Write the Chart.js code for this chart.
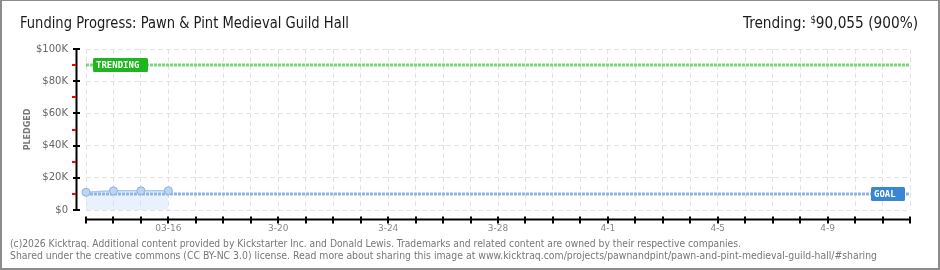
<!DOCTYPE html>
<html><head><meta charset="utf-8">
<script src="https://cdn.jsdelivr.net/npm/chart.js@4.4.1/dist/chart.umd.min.js"></script>
<style>
html,body{margin:0;padding:0;background:#fff;}
#wrap{position:relative;width:940px;height:270px;overflow:hidden;background:#fff;}
#frame{position:absolute;left:0;top:0;width:940px;height:270px;box-sizing:border-box;border:2px solid #8c8c8c;border-top-width:1px;pointer-events:none;}
canvas{position:absolute;left:0;top:0;}
.t{position:absolute;white-space:nowrap;transform-origin:0 0;}
#title{left:20px;top:15px;font:16px/16px 'DejaVu Sans Condensed','DejaVu Sans',sans-serif;color:#1a1a1a;}
#trend{left:743px;top:15px;font:16px/16px 'DejaVu Sans Condensed','DejaVu Sans',sans-serif;color:#1a1a1a;}
#trend .d{font-size:10px;position:relative;top:-5px;}
.f{left:10px;font:10px/10px 'DejaVu Sans Condensed','DejaVu Sans',sans-serif;color:#777;}
#f1{top:239px;}
#f2{top:251px;}
</style></head>
<body>
<div id="wrap">
<canvas id="c" width="940" height="270"></canvas>
<div class="t" id="title">Funding Progress: Pawn &amp; Pint Medieval Guild Hall</div>
<div class="t" id="trend">Trending: <span class="d">$</span>90,055 (900%)</div>
<div class="t f" id="f1">(c)2026 Kicktraq. Additional content provided by Kickstarter Inc. and Donald Lewis. Trademarks and related content are owned by their respective companies.</div>
<div class="t f" id="f2">Shared under the creative commons (CC BY-NC 3.0) license. Read more about sharing this image at www.kicktraq.com/projects/pawnandpint/pawn-and-pint-medieval-guild-hall/#sharing</div>
<div id="frame"></div>
</div>
<script>
// ---- data ----
const dayCount = 30;                 // 03-13 .. 04-12
const pledgedDays = [0, 1, 2, 3];    // 03-13 .. 03-16
const pledgedValues = [11000, 11900, 11950, 12000];
const goalValue = 10000;
const trendingValue = 90055;
const tickDays = [3, 7, 11, 15, 19, 23, 27];
const tickLabels = ['03-16', '3-20', '3-24', '3-28', '4-1', '4-5', '4-9'];
const yMax = 100000;

// fit header/footer text widths
function fit(id, w){
  const el = document.getElementById(id);
  const cw = el.getBoundingClientRect().width;
  el.style.transform = 'scaleX(' + (w / cw) + ')';
}
fit('title', 329); fit('trend', 175); fit('f1', 731); fit('f2', 867);

const axesPlugin = {
  id: 'axes',
  afterDraw(chart){
    const {ctx, chartArea: a, scales: {x, y}} = chart;
    ctx.save();
    // y axis
    const ax = a.left - 9.5;
    ctx.strokeStyle = '#000'; ctx.lineWidth = 2;
    ctx.beginPath(); ctx.moveTo(ax, y.getPixelForValue(yMax) - 1); ctx.lineTo(ax, y.getPixelForValue(0) + 1); ctx.stroke();
    for (let v = 0; v <= yMax; v += 10000){
      const py = Math.round(y.getPixelForValue(v));
      if (v % 20000 === 0){
        ctx.fillStyle = '#000'; ctx.fillRect(ax - 3.5, py - 1, 7, 2);
      } else {
        ctx.fillStyle = '#f00'; ctx.fillRect(ax - 4.5, py - 1, 4, 2);
      }
    }
    // x axis
    const ay = a.bottom + 9.5;
    ctx.fillStyle = '#000';
    const x0 = x.getPixelForValue(0), x1 = x.getPixelForValue(dayCount);
    ctx.fillRect(x0 - 1, ay - 1, x1 - x0 + 2, 2);
    for (let d = 0; d <= dayCount; d++){
      const px = Math.round(x.getPixelForValue(d));
      ctx.fillRect(px - 1, ay - 3, 2, 7);
    }
    // labels
    function tag(text, left, cy, w, color){
      ctx.fillStyle = color;
      ctx.beginPath();
      ctx.roundRect(left, Math.round(cy) - 7, w, 14, 1.5);
      ctx.fill();
      ctx.fillStyle = '#fff';
      ctx.font = 'bold 9px "DejaVu Sans Mono", monospace';
      ctx.textBaseline = 'middle';
      ctx.textAlign = 'left';
      ctx.fillText(text, left + 3, Math.round(cy) + 0.5);
    }
    tag('TRENDING', x.getPixelForValue(0) + 7, y.getPixelForValue(trendingValue), 55, '#1fb51f');
    tag('GOAL', x.getPixelForValue(dayCount) - 39, y.getPixelForValue(goalValue), 34, '#3a86d6');
    ctx.restore();
  }
};

new Chart(document.getElementById('c'), {
  type: 'line',
  data: {
    datasets: [
      {
        label: 'Pledged',
        data: pledgedDays.map((d, i) => ({x: d, y: pledgedValues[i]})),
        borderColor: '#a9c9ee',
        borderWidth: 1.5,
        backgroundColor: 'rgba(200,222,248,0.4)',
        fill: 'origin',
        pointRadius: 4,
        pointBackgroundColor: '#bcd5f2',
        pointBorderColor: '#8cb2de',
        pointBorderWidth: 1,
        tension: 0,
        clip: false
      },
      {
        label: 'Goal',
        data: [{x: 0, y: goalValue}, {x: dayCount, y: goalValue}],
        borderColor: '#8fb5e0',
        borderWidth: 3,
        borderDash: [3, 1],
        pointRadius: 0,
        fill: false
      },
      {
        label: 'Trending',
        data: [{x: 0, y: trendingValue}, {x: dayCount, y: trendingValue}],
        borderColor: '#7ad67a',
        borderWidth: 3,
        borderDash: [3, 1],
        pointRadius: 0,
        fill: false
      }
    ]
  },
  options: {
    responsive: false,
    animation: false,
    events: [],
    layout: {padding: {left: 23, right: 30, top: 49, bottom: 30}},
    plugins: {
      legend: {display: false},
      tooltip: {enabled: false},
      filler: {drawTime: 'beforeDatasetsDraw'}
    },
    scales: {
      x: {
        type: 'linear',
        min: 0, max: dayCount,
        afterFit(s){ s.height = 30; },
        border: {display: false, dash: [5, 3]},
        grid: {color: '#e3e3e3', lineWidth: 1, drawTicks: false},
        ticks: {
          stepSize: 1, autoSkip: false, maxRotation: 0, padding: 13,
          color: '#888',
          font: {family: 'DejaVu Sans', size: 9},
          callback: (v) => { const i = tickDays.indexOf(v); return i >= 0 ? tickLabels[i] : ''; }
        }
      },
      y: {
        min: 0, max: yMax,
        afterFit(s){ s.width = 63; },
        border: {display: false, dash: [5, 3]},
        grid: {
          drawTicks: false, lineWidth: 1,
          color: (c) => (c.tick && c.tick.value % 20000 === 0) ? '#e3e3e3' : 'rgba(0,0,0,0)'
        },
        title: {display: true, text: 'PLEDGED', color: '#777', padding: 0,
          font: {family: 'DejaVu Sans', size: 8, weight: 'bold'}},
        ticks: {
          stepSize: 10000, padding: 18, color: '#666',
          font: {family: 'DejaVu Sans', size: 10},
          callback: (v) => v % 20000 === 0 ? ('$' + (v === 0 ? '0' : (v / 1000) + 'K')) : ''
        }
      }
    }
  },
  plugins: [axesPlugin]
});
</script>
</body></html>
